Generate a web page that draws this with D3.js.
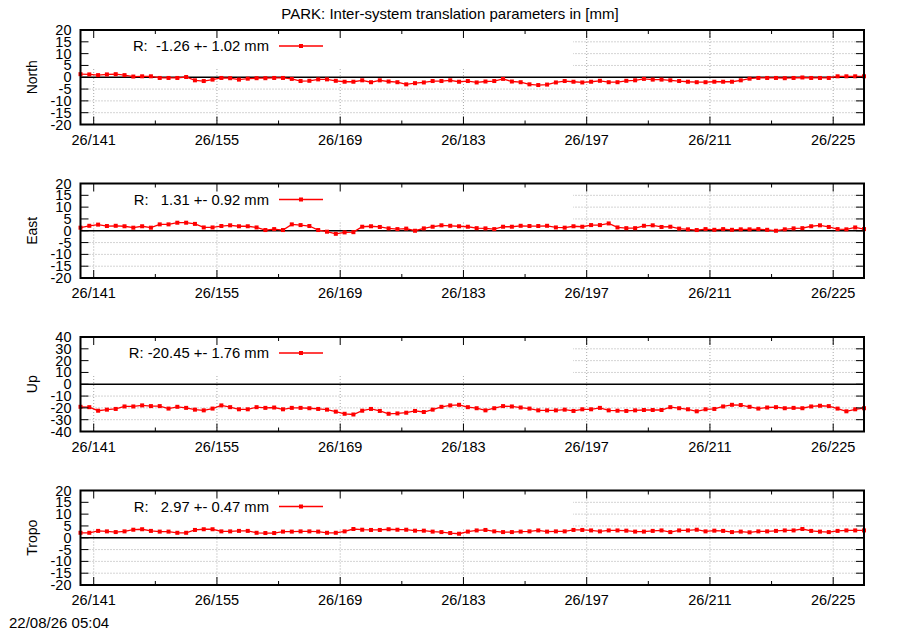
<!DOCTYPE html>
<html>
<head>
<meta charset="utf-8">
<script src="https://cdn.jsdelivr.net/npm/d3@7"></script>
<style>
  body { margin: 0; background: #fff; }
  text { font-family: "Liberation Sans", Arial, sans-serif; fill: #000; }
  .grid { stroke: #a8a8a8; stroke-width: 1; stroke-dasharray: 1,2; }
</style>
</head>
<body>
<script>
// day of year (2026), plotted at noon
const days = [
  139,140,141,142,143,144,145,146,147,148,149,150,151,152,153,154,155,156,157,158,
  159,160,161,162,163,164,165,166,167,168,169,170,171,172,173,174,175,176,177,178,
  179,180,181,182,183,184,185,186,187,188,189,190,191,192,193,194,195,196,197,198,
  199,200,201,202,203,204,205,206,207,208,209,210,211,212,213,214,215,216,217,218,
  219,220,221,222,223,224,225,226,227,228
];

const north = [
  1.3,1.2,0.9,1.2,1.3,0.9,0.3,0.4,0.4,-0.3,-0.3,-0.3,0.1,-1.3,-1.6,-1.0,-0.3,-0.4,-1.0,-0.6,
  -0.4,-0.4,-0.3,-0.3,-0.7,-1.6,-1.5,-0.9,-0.9,-1.5,-1.9,-1.9,-1.3,-2.1,-1.3,-1.8,-2.1,-3.0,-2.5,-2.2,
  -1.6,-1.6,-1.3,-1.9,-1.6,-2.2,-1.8,-1.6,-0.7,-1.8,-2.1,-3.0,-3.3,-3.1,-2.2,-1.6,-1.9,-2.2,-1.9,-1.5,
  -2.1,-2.1,-1.5,-1.3,-0.7,-1.0,-1.0,-1.3,-1.6,-1.9,-2.1,-2.1,-1.9,-1.9,-1.9,-1.3,-0.6,-0.3,-0.3,-0.3,
  -0.4,-0.3,-0.1,-0.3,-0.3,-0.3,0.4,0.4,0.4,0.4
];

const east = [
  1.3,2.1,2.6,2.0,2.1,1.9,1.3,1.9,1.3,2.7,2.7,3.4,3.4,2.9,1.4,1.4,2.0,2.3,1.9,1.9,
  1.4,0.3,0.7,0.3,2.7,2.4,2.0,0.3,-0.4,-1.3,-0.7,-0.6,1.7,1.9,1.6,1.0,0.7,0.9,0.0,1.0,
  1.7,2.3,2.1,1.9,1.7,1.1,1.0,0.7,1.7,1.7,2.1,2.0,2.0,2.1,1.4,1.3,1.9,1.7,2.4,2.4,
  3.1,1.4,1.1,1.1,2.1,2.3,1.6,1.7,0.9,0.6,0.3,0.7,0.4,0.7,0.4,0.6,0.6,0.7,0.4,0.0,
  0.6,1.0,1.1,1.9,2.3,1.6,0.7,0.6,1.4,0.7
];

const up = [
  -19.1,-19.4,-22.4,-21.5,-20.9,-18.8,-18.8,-17.9,-18.5,-18.5,-20.6,-19.1,-20.0,-21.5,-22.1,-20.6,-17.9,-19.4,-21.2,-21.2,
  -19.4,-20.0,-19.7,-21.2,-20.0,-20.0,-20.3,-20.9,-21.5,-23.2,-25.0,-25.6,-22.4,-20.9,-22.6,-25.0,-24.7,-24.1,-22.6,-23.5,
  -21.5,-19.1,-17.9,-17.4,-19.4,-20.3,-22.1,-20.3,-18.5,-18.8,-19.7,-20.6,-22.1,-22.1,-22.1,-21.5,-22.6,-21.2,-21.2,-20.0,
  -22.1,-22.4,-22.6,-22.1,-21.8,-21.8,-21.8,-19.4,-20.3,-21.2,-22.9,-21.2,-20.9,-18.8,-17.4,-17.6,-19.1,-20.6,-19.7,-19.4,
  -20.3,-20.0,-20.3,-18.8,-18.2,-18.5,-20.6,-22.9,-21.2,-20.3
];

const tropo = [
  2.1,2.1,2.9,2.7,2.4,2.7,3.4,3.6,2.9,2.6,2.6,2.1,2.1,3.3,3.6,3.6,2.7,2.7,2.9,2.9,
  2.1,2.0,2.0,2.6,2.6,2.7,2.7,2.6,2.1,2.1,2.7,3.7,3.4,3.3,3.3,3.6,3.4,3.4,3.0,3.0,
  2.6,2.4,2.0,1.7,2.6,3.1,3.3,2.7,2.4,2.4,2.6,2.7,3.1,2.6,2.7,2.7,3.3,3.3,3.1,2.7,
  3.1,3.1,3.0,2.6,2.6,2.9,3.1,2.4,3.1,3.1,3.4,2.7,3.0,2.9,2.4,2.6,2.3,2.7,2.7,2.9,
  3.1,3.1,3.7,2.9,2.6,2.4,2.9,3.1,3.1,3.1
];

const panelNames = ["North", "East", "Up", "Tropo"];
const keyLabels = [
  "R:  -1.26 +- 1.02 mm",
  "R:   1.31 +- 0.92 mm",
  "R: -20.45 +- 1.76 mm",
  "R:   2.97 +- 0.47 mm"
];
const yDomains = [[-20, 20], [-20, 20], [-40, 40], [-20, 20]];
const yTicks = [
  [-20, -15, -10, -5, 0, 5, 10, 15, 20],
  [-20, -15, -10, -5, 0, 5, 10, 15, 20],
  [-40, -30, -20, -10, 0, 10, 20, 30, 40],
  [-20, -15, -10, -5, 0, 5, 10, 15, 20]
];
const xMajor = [141, 155, 169, 183, 197, 211, 225];
const xMinor = [148, 162, 176, 190, 204, 218];
const title = "PARK: Inter-system translation parameters in [mm]";
const stamp = "22/08/26 05:04";

const series = [north, east, up, tropo];

const width = 900, height = 630;
const left = 80.5, right = 864;
const panelH = 94.5;
const panelTop = i => 30 + i * 153.5;

const svg = d3.select("body").append("svg")
  .attr("width", width)
  .attr("height", height);

const x = d3.scaleLinear().domain([139.5, 228.5]).range([left, right]);

svg.append("text")
  .attr("x", 450).attr("y", 19)
  .attr("text-anchor", "middle")
  .style("font-size", "15px")
  .text(title);

series.forEach((vals, i) => {
  const top = panelTop(i), bottom = top + panelH;
  const y = d3.scaleLinear().domain(yDomains[i]).range([bottom, top]);
  const g = svg.append("g");

  // grid
  g.selectAll(".hg").data(yTicks[i].filter(t => t !== yDomains[i][0] && t !== yDomains[i][1] && t !== 0))
    .enter().append("line").attr("class", "grid")
    .attr("x1", left).attr("x2", right)
    .attr("y1", d => y(d)).attr("y2", d => y(d));
  g.selectAll(".vg").data(xMajor)
    .enter().append("line").attr("class", "grid")
    .attr("x1", d => x(d)).attr("x2", d => x(d))
    .attr("y1", top).attr("y2", bottom);

  // opaque key box
  g.append("rect")
    .attr("x", left).attr("y", top)
    .attr("width", 573 - left).attr("height", 38)
    .attr("fill", "#fff");

  // zero axis
  g.append("line")
    .attr("x1", left).attr("x2", right)
    .attr("y1", y(0)).attr("y2", y(0))
    .attr("stroke", "#000").attr("stroke-width", 1.5);

  // data
  const line = d3.line().x((d, j) => x(days[j] + 0.5)).y(d => y(d));
  g.append("path").datum(vals)
    .attr("d", line)
    .attr("fill", "none")
    .attr("stroke", "#ff0000")
    .attr("stroke-width", 1.3);
  g.selectAll(".pt").data(vals).enter().append("rect")
    .attr("x", (d, j) => x(days[j] + 0.5) - 2)
    .attr("y", d => y(d) - 2)
    .attr("width", 4).attr("height", 4)
    .attr("fill", "#ff0000");

  // border
  g.append("rect")
    .attr("x", left).attr("y", top)
    .attr("width", right - left).attr("height", panelH)
    .attr("fill", "none").attr("stroke", "#000").attr("stroke-width", 2);

  // y ticks, mirrored on the right
  yTicks[i].forEach(t => {
    g.append("line").attr("x1", left).attr("x2", left + 8)
      .attr("y1", y(t)).attr("y2", y(t)).attr("stroke", "#000");
    g.append("line").attr("x1", right - 8).attr("x2", right)
      .attr("y1", y(t)).attr("y2", y(t)).attr("stroke", "#000");
    g.append("text")
      .attr("x", left - 9).attr("y", y(t) + 5)
      .attr("text-anchor", "end")
      .style("font-size", "14.5px")
      .text(t);
  });

  // x ticks top and bottom
  xMajor.concat(xMinor).forEach(d => {
    const len = xMajor.includes(d) ? 8 : 4;
    g.append("line").attr("x1", x(d)).attr("x2", x(d))
      .attr("y1", bottom).attr("y2", bottom - len).attr("stroke", "#000");
    g.append("line").attr("x1", x(d)).attr("x2", x(d))
      .attr("y1", top).attr("y2", top + len).attr("stroke", "#000");
  });
  g.selectAll(".xl").data(xMajor).enter().append("text")
    .attr("x", d => x(d)).attr("y", bottom + 20)
    .attr("text-anchor", "middle")
    .style("font-size", "14.5px")
    .text(d => "26/" + d);

  // axis label
  g.append("text")
    .attr("transform", `translate(37,${(top + bottom) / 2}) rotate(-90)`)
    .attr("text-anchor", "middle")
    .style("font-size", "14px")
    .text(panelNames[i]);

  // key
  g.append("text")
    .attr("x", 269).attr("y", top + 21)
    .attr("text-anchor", "end")
    .style("font-size", "14.8px")
    .style("white-space", "pre")
    .text(keyLabels[i]);
  g.append("line")
    .attr("x1", 279).attr("x2", 323)
    .attr("y1", top + 16).attr("y2", top + 16)
    .attr("stroke", "#ff0000").attr("stroke-width", 1.3);
  g.append("rect")
    .attr("x", 299).attr("y", top + 14)
    .attr("width", 4).attr("height", 4)
    .attr("fill", "#ff0000");
});

svg.append("text")
  .attr("x", 9).attr("y", 628)
  .style("font-size", "15px")
  .text(stamp);
</script>
</body>
</html>
